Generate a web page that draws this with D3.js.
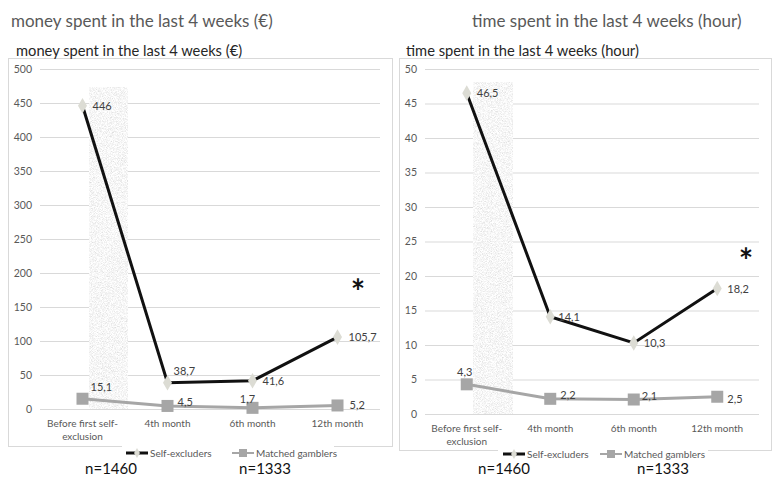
<!DOCTYPE html>
<html>
<head>
<meta charset="utf-8">
<script src="https://cdn.jsdelivr.net/npm/d3@7"></script>
<style>
  html, body { margin: 0; padding: 0; background: #fff; }
  svg { display: block; font-family: Lato, "Open Sans", sans-serif; }
</style>
</head>
<body>
<svg id="chart" width="779" height="492"></svg>
<script>
// ---- data ----
const categories = ["Before first self-exclusion", "4th month", "6th month", "12th month"];
const seriesNames = ["Self-excluders", "Matched gamblers"];

const moneySelfExcluders = [446, 38.7, 41.6, 105.7];
const moneyMatched = [15.1, 4.5, 1.7, 5.2];
const moneyTicks = [0, 50, 100, 150, 200, 250, 300, 350, 400, 450, 500];

const timeSelfExcluders = [46.5, 14.1, 10.3, 18.2];
const timeMatched = [4.3, 2.2, 2.1, 2.5];
const timeTicks = [0, 5, 10, 15, 20, 25, 30, 35, 40, 45, 50];

const sampleLabels = ["n=1460", "n=1333"];
const titles = ["money spent in the last 4 weeks (€)", "time spent in the last 4 weeks (hour)"];

const fmt = v => String(v).replace(".", ",");

// ---- drawing ----
const svg = d3.select("#chart");
const defs = svg.append("defs");
const filt = defs.append("filter").attr("id", "noise")
  .attr("x", 0).attr("y", 0).attr("width", 1).attr("height", 1);
filt.append("feTurbulence").attr("type", "fractalNoise").attr("baseFrequency", 1.2)
  .attr("numOctaves", 2).attr("seed", 7).attr("result", "t");
filt.append("feColorMatrix").attr("in", "t").attr("type", "matrix")
  .attr("values", "0.55 0 0 0 0.65  0.55 0 0 0 0.65  0.55 0 0 0 0.65  0 0 0 0 1").attr("result", "g");
filt.append("feComposite").attr("in", "g").attr("in2", "SourceGraphic").attr("operator", "in");

function drawPanel(cfg) {
  const g = svg.append("g");
  // big title
  g.append("text").attr("x", cfg.bigTitleX).attr("y", 27)
    .attr("font-size", 17).attr("fill", "#595959").text(cfg.title);

  // box
  g.append("rect").attr("x", cfg.box[0] + 0.5).attr("y", cfg.box[1] + 0.5)
    .attr("width", cfg.box[2]).attr("height", cfg.box[3])
    .attr("fill", "#fff").attr("stroke", "#d9d9d9").attr("stroke-width", 1);

  // sub title
  g.append("text").attr("x", cfg.subTitleX).attr("y", 56)
    .attr("font-size", 14.7).attr("fill", "#262626").text(cfg.title);

  const x = d3.scaleBand().domain(categories).range(cfg.xRange);
  const y = d3.scaleLinear().domain(cfg.yDomain).range(cfg.yRange);
  const cx = c => x(c) + x.bandwidth() / 2;

  // gridlines + y axis
  const yAxis = d3.axisLeft(y).tickValues(cfg.ticks).tickSize(-(cfg.xRange[1] - cfg.xRange[0]))
    .tickPadding(8).tickFormat(d => d);
  const ya = g.append("g").attr("transform", `translate(${cfg.xRange[0]},0)`).call(yAxis);
  ya.select(".domain").remove();
  ya.selectAll(".tick line").attr("stroke", "#d9d9d9");
  ya.selectAll(".tick text").attr("fill", "#595959").attr("font-size", 10.5)
    .attr("font-family", "Lato, sans-serif");

  // shaded highlight
  g.append("rect").attr("x", cfg.shade[0]).attr("y", cfg.shade[1])
    .attr("width", cfg.shade[2]).attr("height", y(0) - cfg.shade[1])
    .attr("fill", "#e6e6e6").attr("filter", "url(#noise)");

  // category labels
  const xa = g.append("g");
  categories.forEach(c => {
    const t = xa.append("text").attr("x", cx(c)).attr("y", y(0) + 18)
      .attr("text-anchor", "middle").attr("font-size", 10).attr("fill", "#595959");
    if (c.startsWith("Before")) {
      t.append("tspan").attr("x", cx(c)).text("Before first self-");
      t.append("tspan").attr("x", cx(c)).attr("dy", 12.5).text("exclusion");
    } else t.text(c);
  });

  const line = d3.line().x((d, i) => cx(categories[i])).y(d => y(d));

  // matched gamblers
  g.append("path").datum(cfg.matched).attr("d", line).attr("fill", "none")
    .attr("stroke", "#a6a6a6").attr("stroke-width", 3);
  g.selectAll(".mg").data(cfg.matched).join("rect")
    .attr("x", (d, i) => cx(categories[i]) - 6).attr("y", d => y(d) - 6)
    .attr("width", 12).attr("height", 12).attr("fill", "#a6a6a6");

  // self-excluders
  g.append("path").datum(cfg.self).attr("d", line).attr("fill", "none")
    .attr("stroke", "#111").attr("stroke-width", 3);
  g.selectAll(".se").data(cfg.self).join("path")
    .attr("transform", (d, i) => `translate(${cx(categories[i])},${y(d)})`)
    .attr("d", d3.symbol(d3.symbolDiamond, 70)).attr("fill", "#dcdcd4");

  // data labels
  const lab = (vals, offs) => vals.forEach((v, i) => {
    const o = offs[i];
    g.append("text").attr("x", cx(categories[i]) + o[0]).attr("y", y(v) + o[1])
      .attr("text-anchor", o[2] || "start").attr("font-size", 11).attr("fill", "#404040")
      .text(fmt(v));
  });
  lab(cfg.self, cfg.selfLab);
  lab(cfg.matched, cfg.matchedLab);

  // asterisk
  g.append("text").attr("x", cfg.star[0]).attr("y", cfg.star[1]).attr("text-anchor", "middle")
    .attr("font-size", 34).attr("font-weight", "bold").attr("fill", "#111").text("*");

  // legend
  const L = cfg.legend;
  g.append("rect").attr("x", L.bg[0]).attr("y", L.y - 7).attr("width", L.bg[1] - L.bg[0])
    .attr("height", 14).attr("fill", "#fff");
  const lg = g.append("g").attr("font-size", 10).attr("fill", "#595959");
  lg.append("line").attr("x1", L.x1).attr("x2", L.x1 + 22).attr("y1", L.y).attr("y2", L.y)
    .attr("stroke", "#111").attr("stroke-width", 3);
  lg.append("path").attr("transform", `translate(${L.x1 + 11},${L.y})`)
    .attr("d", d3.symbol(d3.symbolDiamond, 30)).attr("fill", "#dcdcd4");
  lg.append("text").attr("x", L.x1 + 24).attr("y", L.y + 3.5).text(seriesNames[0]);
  lg.append("line").attr("x1", L.x2).attr("x2", L.x2 + 22).attr("y1", L.y).attr("y2", L.y)
    .attr("stroke", "#a6a6a6").attr("stroke-width", 2);
  lg.append("rect").attr("x", L.x2 + 7).attr("y", L.y - 4).attr("width", 8).attr("height", 8)
    .attr("fill", "#a6a6a6");
  lg.append("text").attr("x", L.x2 + 24).attr("y", L.y + 3.5).text(seriesNames[1]);

  // sample sizes
  sampleLabels.forEach((s, i) => {
    g.append("text").attr("x", cfg.nX[i]).attr("y", 474).attr("text-anchor", "middle")
      .attr("font-size", 15).attr("fill", "#111").text(s);
  });
}

drawPanel({
  title: titles[0], bigTitleX: 11, subTitleX: 16,
  box: [8, 58, 384, 388],
  xRange: [40, 380], yDomain: [0, 500], yRange: [409, 69], ticks: moneyTicks,
  shade: [89, 87, 39],
  self: moneySelfExcluders, matched: moneyMatched,
  selfLab: [[10, 4], [6, -8], [10, 4], [11, 4]],
  matchedLab: [[8, -8], [10, 0], [-5, -5, "middle"], [12, 4]],
  star: [358, 304],
  legend: { y: 453, x1: 126, x2: 232, bg: [122, 334] },
  nX: [111, 265]
});

drawPanel({
  title: titles[1], bigTitleX: 472, subTitleX: 406,
  box: [399, 58, 372, 392],
  xRange: [425, 759], yDomain: [0, 50], yRange: [414, 69], ticks: timeTicks,
  shade: [473, 82, 40],
  self: timeSelfExcluders, matched: timeMatched,
  selfLab: [[10, 4], [8, 4], [10, 4], [10, 5]],
  matchedLab: [[-2, -8, "middle"], [10, 0], [8, 0], [10, 6]],
  star: [746, 273],
  legend: { y: 454, x1: 503, x2: 600, bg: [498, 708] },
  nX: [504, 663]
});
</script>
</body>
</html>
